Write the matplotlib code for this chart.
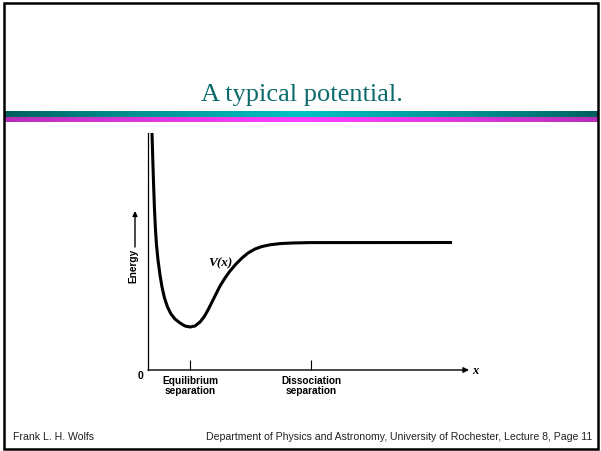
import numpy as np
import matplotlib
matplotlib.use("Agg")
import matplotlib.pyplot as plt
from matplotlib.patches import Rectangle

# ---- data (arbitrary units) ----
x_vals = [0.40, 0.48, 0.56, 0.65, 0.75, 0.85, 1.0, 1.2, 1.4, 1.65, 1.95, 2.3, 2.7, 3.2,
          3.7, 4.2, 4.7, 5.2, 5.6, 6.0, 6.4, 6.8, 7.2, 7.7, 8.2, 8.8, 9.4, 10.0, 10.7,
          11.4, 12.2, 13.2, 14.4, 16.2, 30.4]
v_vals = [23.7, 21.0, 18.5, 16.0, 14.0, 12.5, 11.0, 9.5, 8.3, 7.2, 6.3, 5.6, 5.1, 4.7,
          4.4, 4.3, 4.4, 4.8, 5.3, 6.0, 6.8, 7.6, 8.4, 9.2, 9.9, 10.6, 11.2, 11.7, 12.1,
          12.35, 12.52, 12.64, 12.7, 12.74, 12.75]
tick_pos = [4.2, 16.3]
tick_labels = ["Equilibrium\nseparation", "Dissociation\nseparation"]
title = "A typical potential."
footer_left = "Frank L. H. Wolfs"
footer_right = "Department of Physics and Astronomy, University of Rochester, Lecture 8, Page 11"

fig = plt.figure(figsize=(6.01, 4.51), dpi=100)
fig.patch.set_facecolor("white")

# background (slide) axes in pixel coordinates
bg = fig.add_axes([0, 0, 1, 1])
bg.set_xlim(0, 601)
bg.set_ylim(451, 0)
bg.axis("off")

# frame
bg.add_patch(Rectangle((3.5, 2.5), 594.5, 446, fill=False, lw=1.8, ec="black"))

# gradient bars
t = np.linspace(0, 1, 400)
w = 1 - np.abs(2 * t - 1)
w = w ** 0.8
teal_edge = np.array([0.0, 0.36, 0.36]); teal_mid = np.array([0.0, 0.76, 0.76])
mag_edge = np.array([0.70, 0.18, 0.70]); mag_mid = np.array([1.0, 0.25, 1.0])
teal = teal_edge[None, :] + (teal_mid - teal_edge)[None, :] * w[:, None]
mag = mag_edge[None, :] + (mag_mid - mag_edge)[None, :] * w[:, None]
bg.imshow(teal[None, :, :], extent=(5, 598, 117, 111), aspect="auto", interpolation="bilinear")
bg.imshow(mag[None, :, :], extent=(5, 598, 122.5, 118), aspect="auto", interpolation="bilinear")
bg.set_xlim(0, 601)
bg.set_ylim(451, 0)

# title
bg.text(302, 101, title, ha="center", va="baseline", fontsize=19,
        family="Liberation Serif", color="#0b6b6b")

# footers
bg.text(13, 437, footer_left, ha="left", va="center", fontsize=7.6,
        family="Liberation Sans", color="#222222")
bg.text(592, 437, footer_right, ha="right", va="center", fontsize=7.6,
        family="Liberation Sans", color="#222222")

# energy arrow + label
bg.annotate("", xy=(135, 211), xytext=(135, 247),
            arrowprops=dict(arrowstyle="-|>", lw=1.0, color="black", mutation_scale=7,
                            shrinkA=0, shrinkB=0))
bg.text(133, 266, "Energy", rotation=90, ha="center", va="center", fontsize=7.3,
        fontweight="bold", family="Liberation Sans")

# x-axis arrow
bg.annotate("", xy=(469, 370), xytext=(148, 370),
            arrowprops=dict(arrowstyle="-|>", lw=1.0, color="black", mutation_scale=8,
                            shrinkA=0, shrinkB=0))
bg.text(475, 371, "x", ha="center", va="center", fontsize=9, fontweight="bold",
        fontstyle="italic", family="Liberation Serif")
bg.text(141, 376, "0", ha="center", va="center", fontsize=7.5, fontweight="bold",
        family="Liberation Sans")

# potential plot axes
ax = fig.add_axes([148 / 601, (451 - 370) / 451, 320 / 601, 237 / 451])
ax.set_xlim(0, 32)
ax.set_ylim(0, 23.7)
ax.patch.set_alpha(0)
for s in ["top", "right", "bottom"]:
    ax.spines[s].set_visible(False)
ax.spines["left"].set_linewidth(0.9)
ax.plot(x_vals, v_vals, color="black", lw=2.2, solid_joinstyle="round",
        solid_capstyle="butt", clip_on=False)
ax.set_yticks([])
ax.set_xticks(tick_pos)
ax.set_xticklabels(tick_labels, fontsize=7.3, fontweight="bold", family="Liberation Sans",
                   linespacing=1.05)
ax.tick_params(axis="x", direction="in", length=7, width=0.8, pad=4)

fig.text(220 / 601, 1 - 263 / 451, "V(x)", ha="center", va="center", fontsize=9.5,
         fontweight="bold", fontstyle="italic", family="Liberation Serif")

fig.savefig("out.png", dpi=100)
